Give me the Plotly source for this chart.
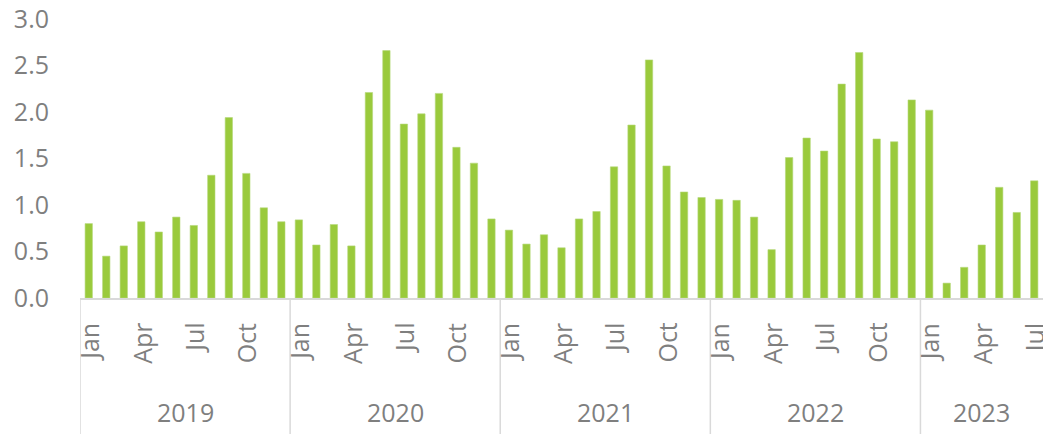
import plotly.graph_objects as go

years = ["2019", "2020", "2021", "2022", "2023"]
months = ["Jan", "Feb", "Mar", "Apr", "May", "Jun", "Jul", "Aug", "Sep", "Oct", "Nov", "Dec"]
months_per_year = [12, 12, 12, 12, 7]

values_2019 = [0.80, 0.45, 0.56, 0.82, 0.71, 0.87, 0.78, 1.32, 1.94, 1.34, 0.97, 0.82]
values_2020 = [0.84, 0.57, 0.79, 0.56, 2.21, 2.66, 1.87, 1.98, 2.20, 1.62, 1.45, 0.85]
values_2021 = [0.73, 0.58, 0.68, 0.54, 0.85, 0.93, 1.41, 1.86, 2.56, 1.42, 1.14, 1.08]
values_2022 = [1.06, 1.05, 0.87, 0.52, 1.51, 1.72, 1.58, 2.30, 2.64, 1.71, 1.68, 2.13]
values_2023 = [2.02, 0.16, 0.33, 0.57, 1.19, 0.92, 1.26]

shown_months = ["Jan", "Apr", "Jul", "Oct"]

series = [values_2019, values_2020, values_2021, values_2022, values_2023]

x_idx, y_vals, tickvals, ticktext = [], [], [], []
year_starts, year_centers = [], []
i = 0
for yr, n, vals in zip(years, months_per_year, series):
    year_starts.append(i)
    year_centers.append(i + (n - 1) / 2)
    for m in range(n):
        x_idx.append(i)
        y_vals.append(vals[m])
        if months[m] in shown_months:
            tickvals.append(i)
            ticktext.append(months[m])
        i += 1
n_total = i

W, H = 1043, 434
L, R, T, B = 80, 0, 19, 434 - 298
plot_h = H - T - B

GREY = "#7f7f7f"
LINE = "#d9d9d9"
FONT = "Open Sans, Roboto, sans-serif"
FS = 25

fig = go.Figure(
    go.Bar(
        x=x_idx,
        y=y_vals,
        marker=dict(color="#9aca3c", line=dict(color="#b5d97a", width=0.6)),
        hoverinfo="y",
    )
)

fig.update_layout(
    width=W,
    height=H,
    margin=dict(l=L, r=R, t=T, b=B, pad=0, autoexpand=False),
    paper_bgcolor="white",
    plot_bgcolor="white",
    bargap=0.58,
    showlegend=False,
    font=dict(family=FONT, size=FS, color=GREY),
)

fig.update_xaxes(
    range=[-0.5, n_total - 0.5],
    showticklabels=False,
    ticks="",
    showline=True,
    linecolor=LINE,
    linewidth=1.5,
    showgrid=False,
    zeroline=False,
    automargin=False,
)

fig.update_yaxes(
    range=[0, 3.0],
    dtick=0.5,
    tick0=0,
    tickformat=".1f",
    showgrid=False,
    zeroline=False,
    showline=False,
    ticks="",
    ticklabelstandoff=30,
    ticklabeloverflow="allow",
    automargin=False,
    tickfont=dict(family=FONT, size=FS, color=GREY),
)

# month labels (rotated, top-aligned under the axis)
month_y = -23 / plot_h
for tv, tt in zip(tickvals, ticktext):
    fig.add_annotation(
        x=tv,
        y=month_y,
        xref="x",
        yref="paper",
        text=tt,
        textangle=-90,
        showarrow=False,
        font=dict(family=FONT, size=FS, color=GREY),
        xanchor="center",
        yanchor="top",
    )

# year separators
sep_bottom = -(B) / plot_h
for s in year_starts:
    fig.add_shape(
        type="line",
        xref="x",
        yref="paper",
        x0=s - 0.5,
        x1=s - 0.5,
        y0=0,
        y1=sep_bottom,
        line=dict(color=LINE, width=1.5),
    )

# year labels
year_y = -(412 - 298) / plot_h
for yr, c in zip(years, year_centers):
    fig.add_annotation(
        x=c,
        y=year_y,
        xref="x",
        yref="paper",
        text=yr,
        showarrow=False,
        font=dict(family=FONT, size=FS, color=GREY),
        xanchor="center",
        yanchor="middle",
    )

# remove the default 8px page margin so the figure fills the window
fig.write_html(
    "out.html",
    config={"displayModeBar": False},
    post_script="document.body.style.margin='0';document.body.style.overflow='hidden';",
)
